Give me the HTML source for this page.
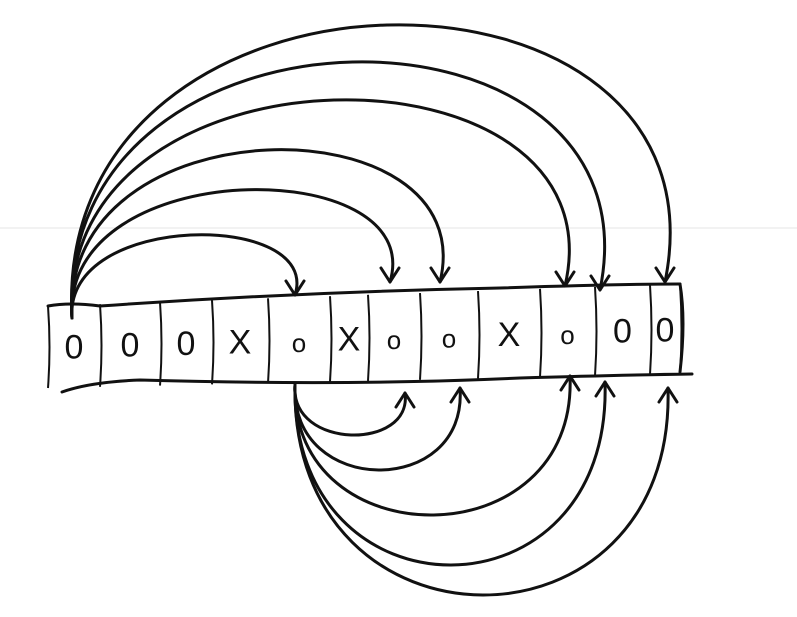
<!DOCTYPE html>
<html>
<head>
<meta charset="utf-8">
<style>
  html,body{margin:0;padding:0;background:#fff;}
  svg{display:block;}
  text{font-family:"Liberation Sans",sans-serif;}
</style>
</head>
<body>
<svg id="sk" width="797" height="617" viewBox="0 0 797 617">
  <line x1="0" y1="228" x2="797" y2="228" stroke="#e6e6e6" stroke-width="1"/>
  <g id="strip" stroke="#111" stroke-width="3" fill="none" stroke-linecap="round">
    <path d="M48 306 Q70 302 100 306 Q300 292 500 288 Q620 284 680 284"/>
    <path d="M62 392 Q90 382 140 380 Q350 386 520 378 Q620 375 692 374"/>
    <path d="M680 284 Q686 320 680 372"/>
  </g>
  <g id="cells"></g>
  <g id="arcs" stroke="#111" stroke-width="3" fill="none" stroke-linecap="round" stroke-linejoin="round"></g>
</svg>
<script>
const NS="http://www.w3.org/2000/svg";
const cellEdges=[48,100,160,212,268,330,368,420,478,540,595,650,680];
const cellSymbols=["0","0","0","X","o","X","o","o","X","o","0","0"];
const topTargets=[295,390,440,565,600,665];
const topTargetY=[295,282,282,286,290,282];
const topPeaks=[235,190,150,100,62,25];
const bottomTargets=[405,460,570,605,668];
const bottomTargetY=[393,388,376,382,388];
const bottomDepths=[435,470,515,565,595];

const cellsG=document.getElementById('cells');
const arcsG=document.getElementById('arcs');
function topY(x){return 306-(x-48)/632*22;}
function botY(x){return 388-(x-48)/632*14;}
cellEdges.forEach((x,i)=>{
  const l=document.createElementNS(NS,'path');
  l.setAttribute('d',`M${x} ${topY(x)} Q${x+3} ${(topY(x)+botY(x))/2} ${x} ${botY(x)}`);
  l.setAttribute('stroke','#111');l.setAttribute('stroke-width','2');l.setAttribute('fill','none');
  
  
  cellsG.appendChild(l);
});
cellSymbols.forEach((s,i)=>{
  const cx=(cellEdges[i]+cellEdges[i+1])/2;
  const cy=(topY(cx)+botY(cx))/2+12;
  const t=document.createElementNS(NS,'text');
  t.setAttribute('x',cx);t.setAttribute('y',cy);
  t.setAttribute('text-anchor','middle');
  t.setAttribute('font-size',s==='o'?'26':'34');
  t.setAttribute('fill','#111');
  t.textContent=s;
  
  
  cellsG.appendChild(t);
});
function arrow(x,y,dir){
  const p=document.createElementNS(NS,'path');
  const d=dir>0?`M${x-9} ${y-14} L${x} ${y} L${x+9} ${y-14}`:`M${x-9} ${y+14} L${x} ${y} L${x+9} ${y+14}`;
  p.setAttribute('d',d);
  
  
  arcsG.appendChild(p);
}
topTargets.forEach((tx,i)=>{
  const sx=72,sy=318,ty=topTargetY[i],py=topPeaks[i];
  const c=(py-0.125*sy-0.125*ty)/0.75;
  const bulge=(tx-sx)*0.12;
  const p=document.createElementNS(NS,'path');
  p.setAttribute('d',`M${sx} ${sy} C${sx-bulge*0.3} ${c}, ${tx+bulge} ${c}, ${tx} ${ty}`);
  
  
  arcsG.appendChild(p);
  arrow(tx,ty,1);
});
bottomTargets.forEach((tx,i)=>{
  const sx=295,sy=385,ty=bottomTargetY[i],dy=bottomDepths[i];
  const c=(dy-0.125*sy-0.125*ty)/0.75;
  const p=document.createElementNS(NS,'path');
  p.setAttribute('d',`M${sx} ${sy} C${sx-5} ${c}, ${tx+8} ${c}, ${tx} ${ty}`);
  
  
  arcsG.appendChild(p);
  arrow(tx,ty,-1);
});
</script>
</body>
</html>
